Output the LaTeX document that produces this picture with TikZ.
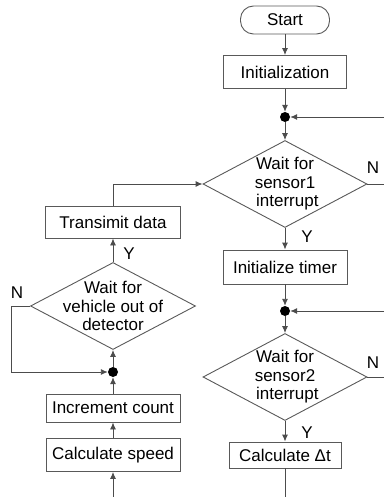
\documentclass[tikz,border=0pt]{standalone}
\usepackage{fontspec}
\setmainfont{Liberation Sans}
\usepackage{tikz}
\usetikzlibrary{shapes.geometric, arrows.meta}

\tikzset{
    box/.style={rectangle, draw=black!65, line width=0.9pt, inner sep=0pt},
    decision/.style={diamond, draw=black!65, line width=0.9pt, inner sep=0pt,
        minimum width=164pt, minimum height=87pt, aspect=1.9},
    dtext/.style={align=center, inner sep=0pt, font=\fontsize{17}{18.5}\selectfont},
    junction/.style={circle, fill=black, inner sep=0pt, minimum size=10pt},
    flow/.style={draw=black!70, line width=0.9pt},
    lbl/.style={inner sep=0pt}
}

\begin{document}
\begin{tikzpicture}[x=1pt, y=-1pt, >={Latex[length=7pt, width=6pt]},
    font=\fontsize{17}{18.5}\selectfont]
    \useasboundingbox (0,0) rectangle (384,497);

    % Main column
    \node[box, rounded corners=13pt, minimum width=89pt, minimum height=28pt] (start) at (285, 20) {Start};
    \node[box, minimum width=123pt, minimum height=33pt] (init) at (285, 72) {Initialization};
    \node[junction] (J1) at (285, 117) {};
    \node[decision, label={[dtext]center:Wait for\\sensor1\\\ interrupt}] (S1) at (285, 184) {};
    \node[box, minimum width=124pt, minimum height=34pt] (timer) at (285, 267) {Initialize timer};
    \node[junction] (J2) at (285, 311) {};
    \node[decision, label={[dtext]center:Wait for\\sensor2\\\ interrupt}] (S2) at (285, 377) {};
    \node[box, minimum width=112pt, minimum height=26pt] (dt) at (285, 455) {Calculate Δt};

    % Side column
    \node[box, minimum width=135pt, minimum height=32pt] (tx) at (113, 222) {Transimit data};
    \node[decision, minimum width=165pt, label={[dtext]center:Wait for\\vehicle out of\\detector}] (veh) at (113, 306) {};
    \node[junction] (J3) at (113, 372) {};
    \node[box, minimum width=134pt, minimum height=28pt] (inc) at (113, 408) {Increment count};
    \node[box, minimum width=134pt, minimum height=33pt] (spd) at (113, 455) {Calculate speed};

    % Free ends at the picture edge
    \coordinate (R1) at (384, 117);
    \coordinate (N1) at (384, 184);
    \coordinate (R2) at (384, 311);
    \coordinate (N2) at (384, 377);
    \coordinate (B1) at (285, 497);
    \coordinate (B2) at (113, 497);
    \coordinate (NL) at (11, 306);

    % Labels
    \node[lbl] (n1) at (373, 168) {N};
    \node[lbl] (y1) at (307, 237) {Y};
    \node[lbl] (n2) at (373, 363) {N};
    \node[lbl] (y2) at (307, 433) {Y};
    \node[lbl] (y3) at (129, 254) {Y};
    \node[lbl] (n3) at (17, 293) {N};

    % Connections
    \draw[flow, ->] (start) -- (init);
    \draw[flow, ->] (init) -- (J1);
    \draw[flow, ->] (R1) -- (J1);
    \draw[flow, ->] (J1) -- (S1);
    \draw[flow] (S1.east) -- (N1);
    \draw[flow, ->] (S1) -- (timer);
    \draw[flow, ->] (timer) -- (J2);
    \draw[flow, ->] (R2) -- (J2);
    \draw[flow, ->] (J2) -- (S2);
    \draw[flow] (S2.east) -- (N2);
    \draw[flow, ->] (S2) -- (dt);
    \draw[flow] (dt) -- (B1);

    \draw[flow, ->] (B2) -- (spd);
    \draw[flow, ->] (spd) -- (inc);
    \draw[flow, ->] (inc) -- (J3);
    \draw[flow, ->] (J3) -- (veh);
    \draw[flow, ->] (veh.west) -- (NL) |- (J3);
    \draw[flow, ->] (veh) -- (tx);
    \draw[flow, ->] (tx.north) |- (S1.west);
\end{tikzpicture}
\end{document}
